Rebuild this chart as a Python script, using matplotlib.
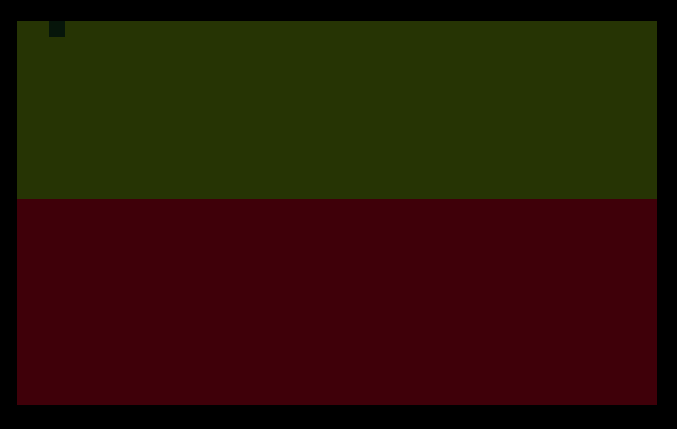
import matplotlib
matplotlib.use("Agg")
import matplotlib.pyplot as plt
from matplotlib.patches import Patch

# Data
categories = [""]
series_names = ["upper", "lower"]
upper_values = [46.35]
lower_values = [53.65]
colors = {"upper": "#263404", "lower": "#3f0009"}
legend_color = "#06150a"

W, H = 677, 429
fig = plt.figure(figsize=(W / 100, H / 100), dpi=100, facecolor="black")
ax = fig.add_axes([17 / W, (H - 405) / H, 640 / W, 384 / H])
ax.set_facecolor("black")

x = list(range(len(categories)))
ax.bar(x, lower_values, width=1.0, color=colors["lower"], linewidth=0)
ax.bar(x, upper_values, bottom=lower_values, width=1.0, color=colors["upper"], linewidth=0)

ax.set_xlim(-0.5, len(categories) - 0.5)
ax.set_ylim(0, 100)
ax.axis("off")

fs_pt = 16 * 72 / 100
leg = ax.legend(handles=[Patch(facecolor=legend_color, edgecolor="none")], labels=[""],
                loc="upper left", bbox_to_anchor=(32 / 640, 1.0), frameon=False,
                borderpad=0, borderaxespad=0, handlelength=1, handleheight=1.15,
                handletextpad=0, fontsize=fs_pt)

fig.savefig("out.png", dpi=100, facecolor="black")
